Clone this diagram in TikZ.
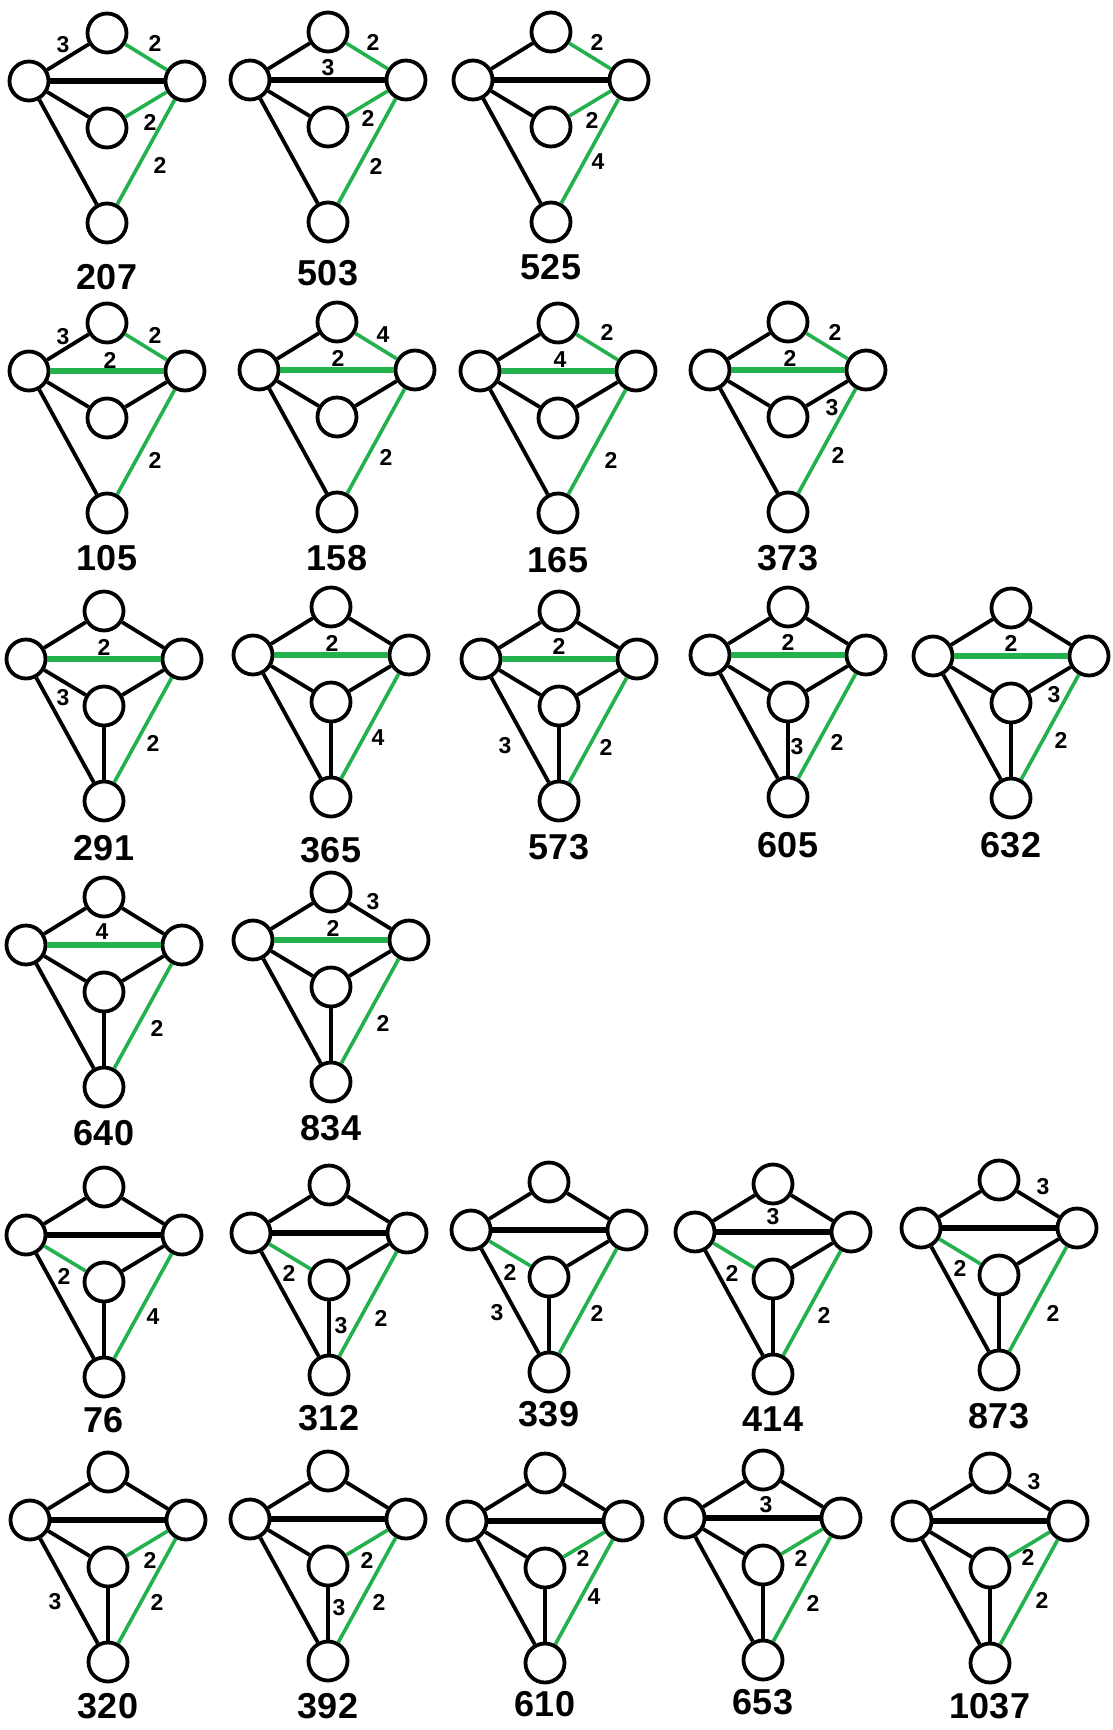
\documentclass[tikz,border=0pt]{standalone}
\usepackage{fontspec}
\setmainfont{Liberation Sans}
\usetikzlibrary{calc}
\definecolor{pgreen}{RGB}{34,177,76}
\tikzset{
 vx/.style={circle, draw=black, line width=3.8pt, fill=white, minimum size=39pt, inner sep=0pt},
 ek/.style={draw=black, line width=3.8pt},
 eg/.style={draw=pgreen, line width=3.6pt},
 thickedge/.style={line width=6.5pt},
 gtitle/.style={font=\fontsize{36}{36}\selectfont\bfseries, inner sep=0pt},
 wt/.style={font=\fontsize{23}{23}\selectfont\bfseries, inner sep=0pt},
}
% #1 number, #2 x, #3 y, #4 title dy, #5 TR, #6 LR, #7 LM, #8 MR
\newcommand\mkgr[8]{%
 \begin{scope}[shift={(#2,#3)}]
  \node[vx] (g#1T) at (0,0) {};
  \node[vx] (g#1L) at (-78,48) {};
  \node[vx] (g#1R) at (78,48) {};
  \node[vx] (g#1M) at (0,95) {};
  \node[vx] (g#1B) at (0,190) {};
  \node[gtitle] (g#1N) at (0,#4) {#1};
  \draw[ek] (g#1L) -- (g#1T);
  \draw[#5] (g#1T) -- (g#1R);
  \draw[#6,thickedge] (g#1L) -- (g#1R);
  \draw[#7] (g#1L) -- (g#1M);
  \draw[#8] (g#1M) -- (g#1R);
  \draw[ek] (g#1L) -- (g#1B);
  \draw[eg] (g#1R) -- (g#1B);
 \end{scope}}
\newcommand\mb[1]{\draw[ek] (g#1M) -- (g#1B);}
% #1 node name, #2 graph, #3 dx, #4 dy, #5 text
\newcommand\wt[5]{\node[wt] (#1) at ($(g#2T)+(#3,#4)$) {#5};}
\begin{document}
\begin{tikzpicture}[x=1pt,y=-1pt]
\useasboundingbox[fill=white] (0,0) rectangle (1113,1730);
% row 1
\mkgr{207}{107}{33}{244}{eg}{ek}{ek}{eg}
\wt{w207a}{207}{-44}{12}{3}\wt{w207b}{207}{48}{10}{2}\wt{w207c}{207}{43}{89}{2}\wt{w207d}{207}{53}{132}{2}
\mkgr{503}{328}{32}{241}{eg}{ek}{ek}{eg}
\wt{w503a}{503}{0}{36}{3}\wt{w503b}{503}{45}{10}{2}\wt{w503c}{503}{40}{86}{2}\wt{w503d}{503}{48}{134}{2}
\mkgr{525}{551}{32}{235}{eg}{ek}{ek}{eg}
\wt{w525b}{525}{46}{10}{2}\wt{w525c}{525}{41}{88}{2}\wt{w525d}{525}{47}{130}{4}
% row 2
\mkgr{105}{107}{323}{235}{eg}{eg}{ek}{ek}
\wt{w105a}{105}{-44}{14}{3}\wt{w105b}{105}{48}{12}{2}\wt{w105c}{105}{3}{37}{2}\wt{w105d}{105}{48}{137}{2}
\mkgr{158}{337}{322}{236}{eg}{eg}{ek}{ek}
\wt{w158b}{158}{46}{13}{4}\wt{w158c}{158}{1}{36}{2}\wt{w158d}{158}{49}{135}{2}
\mkgr{165}{558}{323}{237}{eg}{eg}{ek}{ek}
\wt{w165b}{165}{49}{9}{2}\wt{w165c}{165}{2}{37}{4}\wt{w165d}{165}{53}{137}{2}
\mkgr{373}{788}{322}{236}{eg}{eg}{ek}{ek}
\wt{w373b}{373}{47}{10}{2}\wt{w373c}{373}{2}{36}{2}\wt{w373e}{373}{44}{86}{3}\wt{w373d}{373}{50}{133}{2}
% row 3
\mkgr{291}{104}{611}{237}{ek}{eg}{ek}{ek}\mb{291}
\wt{w291c}{291}{0}{36}{2}\wt{w291e}{291}{-41}{87}{3}\wt{w291d}{291}{49}{132}{2}
\mkgr{365}{331}{607}{243}{ek}{eg}{ek}{ek}\mb{365}
\wt{w365c}{365}{1}{36}{2}\wt{w365d}{365}{47}{131}{4}
\mkgr{573}{559}{611}{236}{ek}{eg}{ek}{ek}\mb{573}
\wt{w573c}{573}{0}{35}{2}\wt{w573e}{573}{-54}{135}{3}\wt{w573d}{573}{47}{136}{2}
\mkgr{605}{788}{607}{238}{ek}{eg}{ek}{ek}\mb{605}
\wt{w605c}{605}{0}{35}{2}\wt{w605e}{605}{9}{140}{3}\wt{w605d}{605}{49}{135}{2}
\mkgr{632}{1011}{608}{237}{ek}{eg}{ek}{ek}\mb{632}
\wt{w632c}{632}{0}{35}{2}\wt{w632e}{632}{43}{87}{3}\wt{w632d}{632}{50}{132}{2}
% row 4
\mkgr{640}{104}{897}{236}{ek}{eg}{ek}{ek}\mb{640}
\wt{w640c}{640}{-2}{35}{4}\wt{w640d}{640}{53}{131}{2}
\mkgr{834}{331}{892}{236}{ek}{eg}{ek}{ek}\mb{834}
\wt{w834b}{834}{42}{10}{3}\wt{w834c}{834}{2}{36}{2}\wt{w834d}{834}{52}{131}{2}
% row 5
\mkgr{76}{104}{1187}{233}{ek}{ek}{eg}{ek}\mb{76}
\wt{w76e}{76}{-40}{89}{2}\wt{w76d}{76}{49}{130}{4}
\mkgr{312}{329}{1185}{233}{ek}{ek}{eg}{ek}\mb{312}
\wt{w312e}{312}{-40}{88}{2}\wt{w312f}{312}{12}{141}{3}\wt{w312d}{312}{52}{133}{2}
\mkgr{339}{549}{1182}{232}{ek}{ek}{eg}{ek}\mb{339}
\wt{w339e}{339}{-39}{90}{2}\wt{w339f}{339}{-52}{131}{3}\wt{w339d}{339}{48}{131}{2}
\mkgr{414}{773}{1184}{235}{ek}{ek}{eg}{ek}\mb{414}
\wt{w414c}{414}{0}{33}{3}\wt{w414e}{414}{-41}{89}{2}\wt{w414d}{414}{51}{131}{2}
\mkgr{873}{999}{1180}{236}{ek}{ek}{eg}{ek}\mb{873}
\wt{w873b}{873}{44}{7}{3}\wt{w873e}{873}{-39}{88}{2}\wt{w873d}{873}{54}{133}{2}
% row 6
\mkgr{320}{108}{1472}{234}{ek}{ek}{ek}{eg}\mb{320}
\wt{w320e}{320}{42}{88}{2}\wt{w320f}{320}{-53}{130}{3}\wt{w320d}{320}{49}{130}{2}
\mkgr{392}{328}{1471}{235}{ek}{ek}{ek}{eg}\mb{392}
\wt{w392e}{392}{39}{89}{2}\wt{w392f}{392}{11}{137}{3}\wt{w392d}{392}{51}{131}{2}
\mkgr{610}{545}{1473}{231}{ek}{ek}{ek}{eg}\mb{610}
\wt{w610e}{610}{38}{85}{2}\wt{w610d}{610}{49}{124}{4}
\mkgr{653}{763}{1470}{232}{ek}{ek}{ek}{eg}\mb{653}
\wt{w653c}{653}{3}{35}{3}\wt{w653e}{653}{38}{88}{2}\wt{w653d}{653}{50}{133}{2}
\mkgr{1037}{990}{1473}{233}{ek}{ek}{ek}{eg}\mb{1037}
\wt{w1037b}{1037}{44}{9}{3}\wt{w1037e}{1037}{38}{84}{2}\wt{w1037d}{1037}{52}{127}{2}
\end{tikzpicture}
\end{document}
